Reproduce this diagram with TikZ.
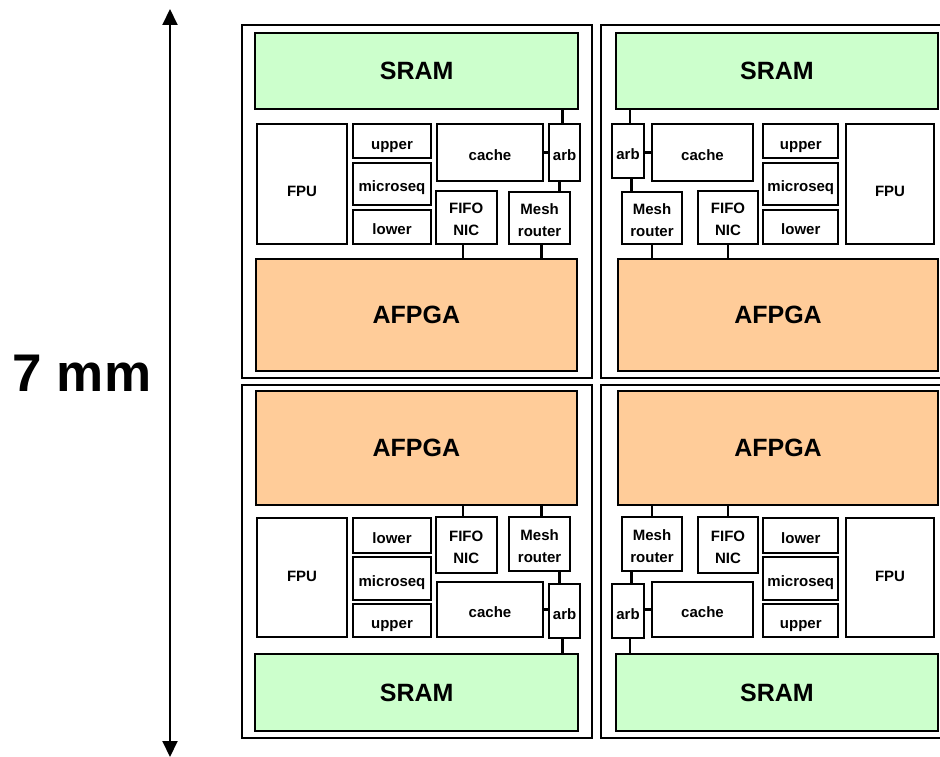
\documentclass[tikz,border=0pt]{standalone}
\usepackage{fontspec}
\setmainfont{Liberation Sans}
\usetikzlibrary{arrows.meta}
\definecolor{sramgreen}{HTML}{CCFFCC}
\definecolor{fpgaorange}{HTML}{FFCC99}

% \cb{style}{name}{x1}{y1}{x2}{y2}{text}: a box given by its corners
\newcommand\cb[7]{\node[#1, minimum width={#5-#3}, minimum height={#6-#4}] (#2) at ({(#3+#5)/2},{(#4+#6)/2}) {#7};}
% invisible struts that lower a two-line label a little
\newcommand\dropa{\rule{0pt}{14pt}}
\newcommand\dropb{\rule{0pt}{16pt}}

\begin{document}
\begin{tikzpicture}[x=1pt, y=-1pt,
  tile/.style={draw, line width=2pt, rectangle, inner sep=0pt},
  unit/.style={draw, line width=2pt, rectangle, inner sep=0pt, fill=white,
    align=center, font=\bfseries\fontsize{15}{22}\selectfont},
  % single-line labels sit a little below the middle of their box
  lbl/.style={unit, text height=19pt, text depth=3.2pt},
  midlbl/.style={unit, text height=11pt, text depth=3.2pt},
  lowlbl/.style={unit, text height=27pt, text depth=3.2pt},
  sram/.style={unit, fill=sramgreen, font=\bfseries\fontsize{25}{30}\selectfont},
  fpga/.style={unit, fill=fpgaorange, font=\bfseries\fontsize{25}{30}\selectfont},
  wire/.style={line width=2.5pt},
  dim/.style={line width=2pt, {Triangle[width=15pt,length=16pt]}-{Triangle[width=15pt,length=16pt]}}]
\clip (0,0) rectangle (940,757);
\fill[white] (0,0) rectangle (940,757);

% ---- tile outlines
\cb{tile}{tl}{242}{25}{592}{378}{}
\cb{tile}{tr}{601}{25}{951}{378}{}
\cb{tile}{bl}{242}{385}{592}{738.3}{}
\cb{tile}{br}{601}{385}{951}{738.3}{}

% ---- top-left tile
\cb{sram}{tlsram}{255}{32.7}{578.3}{109.3}{SRAM}
\cb{lowlbl}{tlfpu}{257.3}{124.3}{346.7}{244}{FPU}
\cb{lbl}{tlupper}{353.3}{124.3}{430.7}{158.3}{upper}
\cb{lbl}{tlmicro}{353.3}{162.7}{430.7}{205}{microseq}
\cb{lbl}{tllower}{353.3}{210}{430.7}{244}{lower}
\cb{lbl}{tlcache}{437.3}{124.3}{542.7}{180.7}{cache}
\cb{lbl}{tlarb}{549.3}{124.3}{580}{180.7}{arb}
\cb{unit}{tlfifo}{435.7}{190.7}{496.7}{244}{\dropa FIFO\\NIC}
\cb{unit}{tlmesh}{509.3}{192.3}{570}{244}{\dropa Mesh\\router}
\cb{fpga}{tlfpga}{256}{259}{576.7}{370.7}{AFPGA}

% ---- top-right tile
\cb{sram}{trsram}{615.7}{32.7}{938.3}{109.3}{SRAM}
\cb{lbl}{trarb}{611.7}{124.3}{644.3}{178.3}{arb}
\cb{lbl}{trcache}{651.7}{124.3}{753.3}{180.7}{cache}
\cb{lbl}{trupper}{763.3}{124.3}{838.3}{158.3}{upper}
\cb{lbl}{trmicro}{763.3}{162.7}{838.3}{205}{microseq}
\cb{lbl}{trlower}{763.3}{210}{838.3}{244}{lower}
\cb{lowlbl}{trfpu}{845.7}{124.3}{934.3}{244}{FPU}
\cb{unit}{trmesh}{621.7}{192.3}{682.3}{244}{\dropa Mesh\\router}
\cb{unit}{trfifo}{697.7}{190.7}{758.3}{244}{\dropa FIFO\\NIC}
\cb{fpga}{trfpga}{617.7}{259}{938.3}{370.7}{AFPGA}

% ---- bottom-left tile
\cb{fpga}{blfpga}{256}{390.7}{576.7}{505}{AFPGA}
\cb{midlbl}{blfpu}{257.3}{518.3}{346.7}{636.7}{FPU}
\cb{lbl}{bllower}{353.3}{518.3}{430.7}{552.7}{lower}
\cb{lbl}{blmicro}{353.3}{556.7}{430.7}{600}{microseq}
\cb{lbl}{blupper}{353.3}{604.3}{430.7}{636.7}{upper}
\cb{unit}{blfifo}{435.7}{516.7}{496.7}{572.7}{\dropb FIFO\\NIC}
\cb{unit}{blmesh}{509.3}{516.7}{570}{571}{\dropb Mesh\\router}
\cb{lbl}{blcache}{437.3}{582.3}{542.7}{636.7}{cache}
\cb{lbl}{blarb}{549.3}{584.3}{580}{638.3}{arb}
\cb{sram}{blsram}{255}{654.3}{578.3}{730.7}{SRAM}

% ---- bottom-right tile
\cb{fpga}{brfpga}{617.7}{390.7}{938.3}{505}{AFPGA}
\cb{unit}{brmesh}{621.7}{516.7}{682.3}{571}{\dropb Mesh\\router}
\cb{unit}{brfifo}{697.7}{516.7}{758.3}{572.7}{\dropb FIFO\\NIC}
\cb{lbl}{brlower}{763.3}{518.3}{838.3}{552.7}{lower}
\cb{lbl}{brmicro}{763.3}{556.7}{838.3}{600}{microseq}
\cb{lbl}{brupper}{763.3}{604.3}{838.3}{636.7}{upper}
\cb{midlbl}{brfpu}{845.7}{518.3}{934.3}{636.7}{FPU}
\cb{lbl}{brarb}{611.7}{584.3}{644.3}{638.3}{arb}
\cb{lbl}{brcache}{651.7}{582.3}{753.3}{636.7}{cache}
\cb{sram}{brsram}{615.7}{654.3}{938.3}{730.7}{SRAM}

% ---- wiring inside the tiles
\draw[wire] ([xshift=-2]tlarb.north) -- ([xshift=-2]tlarb.north |- tlsram.south);
\draw[wire] (tlcache.east) -- (tlarb.west);
\draw[wire] ([xshift=-5.3]tlarb.south) -- ([xshift=-5.3]tlarb.south |- tlmesh.north);
\draw[wire] ([xshift=-3]tlfifo.south) -- ([xshift=-3]tlfifo.south |- tlfpga.north);
\draw[wire] ([xshift=2]tlmesh.south) -- ([xshift=2]tlmesh.south |- tlfpga.north);

\draw[wire] ([xshift=2]trarb.north) -- ([xshift=2]trarb.north |- trsram.south);
\draw[wire] (trarb.east |- trcache.west) -- (trcache.west);
\draw[wire] ([xshift=3.7]trarb.south) -- ([xshift=3.7]trarb.south |- trmesh.north);
\draw[wire] (trmesh.south) -- (trmesh.south |- trfpga.north);
\draw[wire] (trfifo.south) -- (trfifo.south |- trfpga.north);

\draw[wire] ([xshift=-2]blarb.south) -- ([xshift=-2]blarb.south |- blsram.north);
\draw[wire] (blcache.east) -- (blcache.east -| blarb.west);
\draw[wire] ([xshift=-5.3]blarb.north) -- ([xshift=-5.3]blarb.north |- blmesh.south);
\draw[wire] ([xshift=-3]blfifo.north) -- ([xshift=-3]blfifo.north |- blfpga.south);
\draw[wire] ([xshift=2]blmesh.north) -- ([xshift=2]blmesh.north |- blfpga.south);

\draw[wire] ([xshift=2]brarb.south) -- ([xshift=2]brarb.south |- brsram.north);
\draw[wire] (brarb.east |- brcache.west) -- (brcache.west);
\draw[wire] ([xshift=3.7]brarb.north) -- ([xshift=3.7]brarb.north |- brmesh.south);
\draw[wire] (brmesh.north) -- (brmesh.north |- brfpga.south);
\draw[wire] (brfifo.north) -- (brfifo.north |- brfpga.south);

% ---- die height dimension
\coordinate (dimtop) at (170,9);
\coordinate (dimbot) at (170,757);
\draw[dim] (dimtop) -- (dimbot);
\node[font=\bfseries\fontsize{53}{60}\selectfont] (dimlabel) at (82,373) {7 mm};
\end{tikzpicture}
\end{document}
